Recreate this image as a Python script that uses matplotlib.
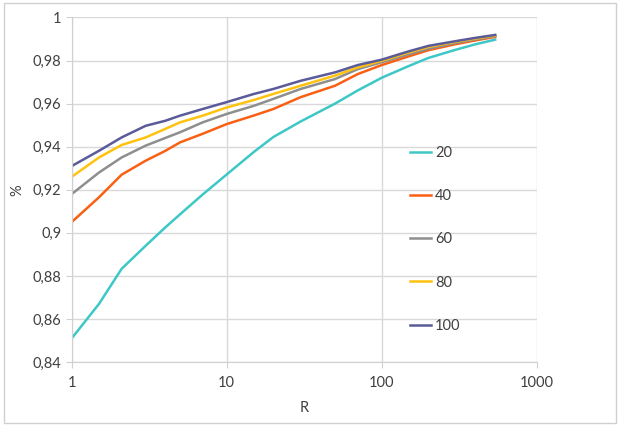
import numpy as np
import matplotlib
matplotlib.use("Agg")
import matplotlib.pyplot as plt
from matplotlib.ticker import FixedLocator, FuncFormatter

plt.rcParams['font.family'] = ['Lato', 'DejaVu Sans']

# R values (log scale) and share for each series
r = [1, 1.5, 2.1, 3, 4, 5, 7, 10, 15, 20, 30, 50, 70, 100, 150, 200, 300, 400, 540]
s20 = [0.851, 0.867, 0.8833, 0.894, 0.9024, 0.9086, 0.9178, 0.9271, 0.9376, 0.9445, 0.9517,
       0.960, 0.9661, 0.972, 0.9775, 0.9812, 0.985, 0.9875, 0.9897]
s40 = [0.905, 0.9165, 0.927, 0.9335, 0.938, 0.942, 0.946, 0.9505, 0.9545, 0.9575, 0.963,
       0.9683, 0.9737, 0.9779, 0.982, 0.9848, 0.9876, 0.9893, 0.991]
s60 = [0.918, 0.928, 0.935, 0.9405, 0.944, 0.9467, 0.9513, 0.9552, 0.959, 0.9622, 0.9668,
       0.9714, 0.976, 0.9792, 0.983, 0.9855, 0.9882, 0.9898, 0.9913]
s80 = [0.926, 0.935, 0.9408, 0.9443, 0.9482, 0.9513, 0.9544, 0.9582, 0.9617, 0.9645, 0.9683,
       0.973, 0.9768, 0.9799, 0.9838, 0.9863, 0.9887, 0.9902, 0.9916]
s100 = [0.931, 0.9381, 0.9443, 0.9497, 0.952, 0.9544, 0.9575, 0.9607, 0.9645, 0.9668, 0.9706,
        0.9745, 0.9779, 0.9804, 0.9843, 0.9868, 0.989, 0.9905, 0.9919]

labels = ['20', '40', '60', '80', '100']
colors = ['#3EC7C7', '#FA6014', '#8E8E8E', '#FFC20E', '#5B5B99']

fig = plt.figure(figsize=(6.2, 4.26), dpi=100)
fig.patches.append(plt.Rectangle((0.006, 0.008), 0.988, 0.984, transform=fig.transFigure,
                                 fill=False, edgecolor='#D0D0D0', linewidth=1))
ax = fig.add_axes([0.1156, 0.150, 0.75, 0.809])

for ys, lab, c in zip([s20, s40, s60, s80, s100], labels, colors):
    ax.plot(r, ys, color=c, linewidth=1.8, label=lab)

ax.set_xscale('log')
ax.set_xlim(1, 1000)
ax.set_ylim(0.84, 1.0)
ax.xaxis.set_major_locator(FixedLocator([1, 10, 100, 1000]))
ax.xaxis.set_minor_locator(FixedLocator([]))
ax.xaxis.set_major_formatter(FuncFormatter(lambda v, p: '%g' % v))
yt = np.arange(0.84, 1.001, 0.02)
ax.set_yticks(yt)
ax.yaxis.set_major_formatter(FuncFormatter(lambda v, p: ('%g' % round(v, 2)).replace('.', ',')))

ax.grid(True, color='#D9D9D9', linewidth=1)
ax.set_axisbelow(True)
for side in ['top', 'right']:
    ax.spines[side].set_visible(False)
for side in ['left', 'bottom']:
    ax.spines[side].set_color('#D0D0D0')
ax.tick_params(axis='both', colors='#D0D0D0', labelcolor='#404040', labelsize=10.5, length=4)
ax.tick_params(axis='x', pad=6)

ax.set_xlabel('R', fontsize=10.5, color='#404040', labelpad=8)
ax.set_ylabel('%', fontsize=10.5, color='#404040', labelpad=6)

ax.legend(loc='upper left', bbox_to_anchor=(0.7, 0.665), frameon=False, fontsize=10.5,
          handlelength=1.4, handletextpad=0.3, labelspacing=2.0, labelcolor='#404040')

fig.savefig('out.png', dpi=100)
